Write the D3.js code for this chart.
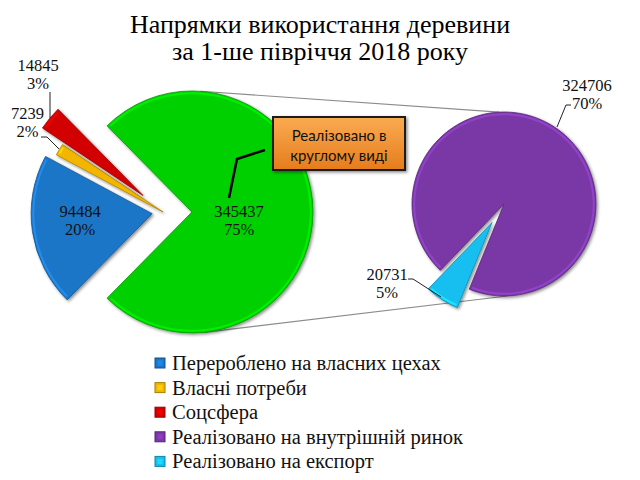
<!DOCTYPE html>
<html><head><meta charset="utf-8">
<script src="https://cdn.jsdelivr.net/npm/d3@7"></script>
<style>body{margin:0;background:#fff}svg{display:block}</style>
</head><body>
<svg id="c" width="640" height="480"></svg>
<script>
// ---- data ----
const mainCats = ["Перероблено на власних цехах", "Власні потреби", "Соцсфера", "Реалізовано в круглому виді"];
const mainValues = [94484, 7239, 14845, 345437];
const mainPct = ["20%", "2%", "3%", "75%"];
const subCats = ["Реалізовано на внутрішній ринок", "Реалізовано на експорт"];
const subValues = [324706, 20731];
const subPct = ["70%", "5%"];
const legendLabels = ["Перероблено на власних цехах", "Власні потреби", "Соцсфера", "Реалізовано на внутрішній ринок", "Реалізовано на експорт"];
const titleLines = ["Напрямки використання деревини", "за 1-ше півріччя 2018 року"];
const calloutLines = ["Реалізовано в", "круглому виді"];

// ---- style ----
const mainColors = ["#1b76c8", "#f2b600", "#d20000", "#00d000"];
const subColors = ["#7a37a7", "#17bff0"];
const legendColors = [mainColors[0], mainColors[1], mainColors[2], subColors[0], subColors[1]];
const serif = "'Liberation Serif','Times New Roman',serif";

const svg = d3.select("#c");
const defs = svg.append("defs");
const sh = defs.append("filter").attr("id", "sh").attr("x", "-20%").attr("y", "-20%").attr("width", "140%").attr("height", "140%");
sh.append("feDropShadow").attr("dx", 1.5).attr("dy", 1.5).attr("stdDeviation", 1.4).attr("flood-color", "#000").attr("flood-opacity", 0.45);
const og = defs.append("linearGradient").attr("id", "og").attr("x1", 0).attr("y1", 0).attr("x2", 0).attr("y2", 1);
og.append("stop").attr("offset", "0%").attr("stop-color", "#fbab52");
og.append("stop").attr("offset", "100%").attr("stop-color", "#e57c1c");

// title
svg.append("g").selectAll("text").data(titleLines).join("text")
  .attr("x", 320).attr("y", (d, i) => 33 + i * 27)
  .attr("text-anchor", "middle").attr("font-family", serif).attr("font-size", 26).attr("fill", "#000")
  .text(d => d);

const C1 = [163, 212], R1 = 121;
const C2 = [504, 204], R2 = 92;

const mainTotal = d3.sum(mainValues);
const greenAng = 2 * Math.PI * mainValues[3] / mainTotal;
const mainStart = Math.PI / 2 + greenAng / 2;
const mainPie = d3.pie().sort(null).startAngle(mainStart).endAngle(mainStart + 2 * Math.PI)(mainValues);
const mainExplode = [11, 0, 26, 29];

const subTotal = d3.sum(subValues);
const cyanAng = 2 * Math.PI * subValues[1] / subTotal;
const cyanMid = 213 * Math.PI / 180;
const subStart = cyanMid + cyanAng / 2;
const subPie = d3.pie().sort(null).startAngle(subStart).endAngle(subStart + 2 * Math.PI)(subValues);
const subExplode = [0, 22];

function offset(d, e) {
  const m = (d.startAngle + d.endAngle) / 2;
  return [Math.sin(m) * e, -Math.cos(m) * e];
}
const g1 = mainPie[3];
const go = offset(g1, mainExplode[3]);
const G = [C1[0] + go[0], C1[1] + go[1]];
const pt = (c, r, deg) => [c[0] + r * Math.sin(deg * Math.PI / 180), c[1] - r * Math.cos(deg * Math.PI / 180)];
const conn = [[pt(G, R1, 4), pt(C2, R2, -3)], [pt(G, R1, 174), pt(C2, R2, 178)]];
svg.append("g").selectAll("line").data(conn).join("line")
  .attr("x1", d => d[0][0]).attr("y1", d => d[0][1]).attr("x2", d => d[1][0]).attr("y2", d => d[1][1])
  .attr("stroke", "#8c8c8c").attr("stroke-width", 1.1);

function drawPie(pieData, center, r, explode, colors) {
  const arc = d3.arc().innerRadius(0).outerRadius(r);
  const hl = d3.arc().innerRadius(r - 2.2).outerRadius(r - 2.2);
  const g = svg.append("g").attr("transform", `translate(${center[0]},${center[1]})`);
  const s = g.selectAll("g").data(pieData).join("g")
    .attr("transform", (d, i) => { const o = offset(d, explode[i]); return `translate(${o[0]},${o[1]})`; });
  s.append("path").attr("d", arc).attr("fill", (d, i) => colors[i])
    .attr("stroke", (d, i) => d3.color(colors[i]).darker(0.9)).attr("stroke-width", 0.8)
    .attr("filter", "url(#sh)");
  s.append("path").attr("d", d => hl({startAngle: d.startAngle + 0.02, endAngle: d.endAngle - 0.02}))
    .attr("fill", "none").attr("stroke", (d, i) => d3.color(colors[i]).brighter(0.7))
    .attr("stroke-width", 2).attr("opacity", 0.7);
}
drawPie(mainPie, C1, R1, mainExplode, mainColors);
drawPie(subPie, C2, R2, subExplode, subColors);

// data labels
const lblFont = 16.5;
function label(x, y, lines) {
  svg.append("g").selectAll("text").data(lines).join("text")
    .attr("x", x).attr("y", (d, i) => y + i * 17.5).attr("text-anchor", "middle")
    .attr("font-family", serif).attr("font-size", lblFont).attr("fill", "#111").text(d => d);
}
const fmt = d3.format("d");
label(80, 217, [fmt(mainValues[0]), mainPct[0]]);
label(27.5, 119, [fmt(mainValues[1]), mainPct[1]]);
label(38, 71, [fmt(mainValues[2]), mainPct[2]]);
label(239, 217, [fmt(mainValues[3]), mainPct[3]]);
label(587, 91, [fmt(subValues[0]), subPct[0]]);
label(387, 280, [fmt(subValues[1]), subPct[1]]);

// leader lines
const leaders = [
  [[50, 92], [50, 118]],
  [[41, 137], [47, 137], [59, 149]],
  [[571, 105], [566, 105], [557, 127]],
  [[408, 279], [413, 279], [441, 297]]
];
svg.append("g").selectAll("path").data(leaders).join("path")
  .attr("d", d => d3.line()(d)).attr("fill", "none").attr("stroke", "#222").attr("stroke-width", 1);
svg.append("path").attr("d", d3.line()([[229, 198], [237, 159], [265, 150]]))
  .attr("fill", "none").attr("stroke", "#000").attr("stroke-width", 2.5);

// callout box
svg.append("rect").attr("x", 273).attr("y", 117).attr("width", 132).attr("height", 53)
  .attr("fill", "url(#og)").attr("stroke", "#1c1c1c").attr("stroke-width", 2).attr("filter", "url(#sh)");
svg.append("g").selectAll("text").data(calloutLines).join("text")
  .attr("x", 339).attr("y", (d, i) => 141 + i * 20).attr("text-anchor", "middle")
  .attr("font-family", "Lato, 'Open Sans', sans-serif").attr("font-size", 15).attr("fill", "#111").text(d => d);

// legend
const lg = svg.append("g").selectAll("g").data(legendLabels).join("g")
  .attr("transform", (d, i) => `translate(155,${363 + i * 24.6})`);
lg.append("rect").attr("x", 0).attr("y", -5).attr("width", 10).attr("height", 10)
  .attr("fill", (d, i) => legendColors[i]).attr("stroke", (d, i) => d3.color(legendColors[i]).darker(1)).attr("stroke-width", 1);
lg.append("rect").attr("x", 2.5).attr("y", -2.5).attr("width", 5).attr("height", 5)
  .attr("fill", (d, i) => d3.color(legendColors[i]).brighter(0.4));
lg.append("text").attr("x", 17).attr("y", 7).attr("font-family", serif).attr("font-size", 20.5)
  .attr("fill", "#111").text(d => d);
</script>
</body></html>
